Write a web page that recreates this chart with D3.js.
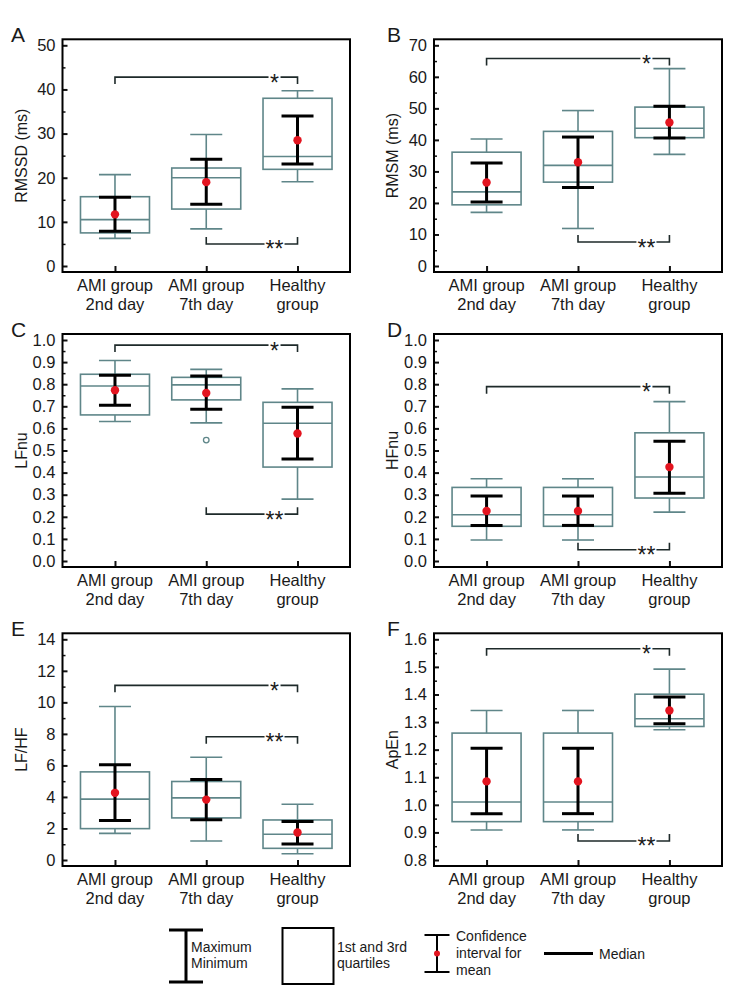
<!DOCTYPE html>
<html><head><meta charset="utf-8">
<script src="https://cdn.jsdelivr.net/npm/d3@7"></script>
<style>
body{margin:0;background:#fff}
svg{display:block}
text{font-family:"Liberation Sans",Arial,Helvetica,sans-serif;fill:#1a1a1a}
</style>
</head><body><svg id="c" width="746" height="999"></svg>
<script>
// ---------- data ----------
const categories = [["AMI group","2nd day"],["AMI group","7th day"],["Healthy","group"]];
const panelLetters = ["A","B","C","D","E","F"];
const yLabels = ["RMSSD (ms)","RMSM (ms)","LFnu","HFnu","LF/HF","ApEn"];
const yTickMin = [0,0,0,0,0,0.8];
const yTickMax = [50,70,1.0,1.0,14,1.6];
const yTickStep = [10,10,0.1,0.1,2,0.1];
const yTickDecimals = [0,0,1,1,0,1];

// box stats per group: [minimum, q1, median, q3, maximum]
const rmssdBox = [[6.25,7.5,10.5,15.7,20.7],[8.4,12.9,20.0,22.2,29.8],[19.1,21.9,24.8,38.0,39.7]];
const rmsmBox  = [[17.0,19.4,23.5,36.1,40.3],[11.9,26.6,31.9,42.7,49.3],[35.4,40.7,43.7,50.4,62.6]];
const lfnuBox  = [[0.631,0.661,0.792,0.845,0.907],[0.625,0.729,0.797,0.831,0.867],[0.280,0.425,0.623,0.718,0.779]];
const hfnuBox  = [[0.095,0.157,0.209,0.333,0.372],[0.095,0.157,0.209,0.333,0.372],[0.221,0.285,0.380,0.580,0.721]];
const lfhfBox  = [[1.69,1.99,3.86,5.59,9.74],[1.21,2.67,3.94,4.98,6.52],[0.40,0.74,1.63,2.54,3.54]];
const apenBox  = [[0.909,0.939,1.010,1.260,1.342],[0.909,0.939,1.010,1.260,1.342],[1.272,1.284,1.312,1.401,1.492]];

// confidence interval for mean per group: [lower, mean, upper]
const rmssdCI = [[7.9,11.7,15.6],[14.0,19.0,24.2],[23.1,28.5,34.0]];
const rmsmCI  = [[20.3,26.5,32.7],[24.9,32.9,40.9],[40.6,45.5,50.7]];
const lfnuCI  = [[0.705,0.773,0.840],[0.687,0.760,0.837],[0.462,0.577,0.696]];
const hfnuCI  = [[0.161,0.226,0.294],[0.161,0.226,0.294],[0.307,0.425,0.542]];
const lfhfCI  = [[2.50,4.26,6.04],[2.56,3.83,5.10],[1.02,1.74,2.44]];
const apenCI  = [[0.968,1.085,1.205],[0.968,1.085,1.205],[1.294,1.342,1.391]];

// outliers per group
const rmssdOut = [[],[],[]];
const rmsmOut  = [[],[],[]];
const lfnuOut  = [[],[0.547],[]];
const hfnuOut  = [[],[],[]];
const lfhfOut  = [[],[],[]];
const apenOut  = [[],[],[]];

// significance brackets: [fromGroup, toGroup, level, tick direction, label]
const rmssdSig = [[0,2,42.8,"down","*"],[1,2,5.0,"up","**"]];
const rmsmSig  = [[0,2,65.8,"down","*"],[1,2,7.6,"up","**"]];
const lfnuSig  = [[0,2,0.977,"down","*"],[1,2,0.212,"up","**"]];
const hfnuSig  = [[0,2,0.789,"down","*"],[1,2,0.051,"up","**"]];
const lfhfSig  = [[0,2,11.08,"down","*"],[1,2,7.82,"down","**"]];
const apenSig  = [[0,2,1.566,"down","*"],[1,2,0.869,"up","**"]];

const boxes = [rmssdBox,rmsmBox,lfnuBox,hfnuBox,lfhfBox,apenBox];
const cis = [rmssdCI,rmsmCI,lfnuCI,hfnuCI,lfhfCI,apenCI];
const outs = [rmssdOut,rmsmOut,lfnuOut,hfnuOut,lfhfOut,apenOut];
const sigs = [rmssdSig,rmsmSig,lfnuSig,hfnuSig,lfhfSig,apenSig];

// ---------- layout ----------
const colX = [[62.5,350],[434,722]];
const rowY = [[39.3,272],[334,567],[633.3,866]];
const boxColor = "#5f8689";
const svg = d3.select("#c");

for (let p = 0; p < 6; p++) {
  const col = p % 2, row = Math.floor(p / 2);
  const [x0,x1] = colX[col], [y0,y1] = rowY[row];
  const g = svg.append("g");
  const x = d3.scalePoint().domain([0,1,2]).range([x0,x1]).padding(0.575);
  const y = d3.scaleLinear().domain([yTickMin[p], yTickMax[p]]).range([y1-6, y0+6]);
  const nT = Math.round((yTickMax[p]-yTickMin[p])/yTickStep[p]);
  const major = d3.range(nT+1).map(i => yTickMin[p] + i*yTickStep[p]);
  const minor = d3.range(nT).map(i => yTickMin[p] + (i+0.5)*yTickStep[p]);

  // minor ticks
  g.append("g").attr("transform",`translate(${x0},0)`)
    .call(d3.axisLeft(y).tickValues(minor).tickSizeInner(-3).tickSizeOuter(0).tickFormat(""))
    .call(s => s.select(".domain").remove())
    .call(s => s.selectAll("line").attr("stroke","#111").attr("stroke-width",1.5));
  // major ticks
  g.append("g").attr("transform",`translate(${x0},0)`)
    .call(d3.axisLeft(y).tickValues(major).tickSizeInner(-5).tickSizeOuter(0).tickPadding(7)
      .tickFormat(d3.format(`.${yTickDecimals[p]}f`)))
    .call(s => s.select(".domain").remove())
    .call(s => s.selectAll("line").attr("stroke","#111").attr("stroke-width",2))
    .call(s => s.selectAll("text").attr("font-size",16.5).attr("fill","#1a1a1a")
      .attr("font-family","Liberation Sans, Arial, sans-serif"));
  // x ticks
  g.append("g").attr("transform",`translate(0,${y1})`)
    .call(d3.axisBottom(x).tickSizeInner(-6).tickSizeOuter(0).tickFormat(""))
    .call(s => s.select(".domain").remove())
    .call(s => s.selectAll("line").attr("stroke","#111").attr("stroke-width",2));
  // category labels
  categories.forEach((c,i) => {
    const t = g.append("text").attr("x",x(i)).attr("text-anchor","middle").attr("font-size",16.5);
    t.append("tspan").attr("x",x(i)).attr("y",y1+19).text(c[0]);
    t.append("tspan").attr("x",x(i)).attr("y",y1+38).text(c[1]);
  });
  // y label
  g.append("text").attr("transform",`translate(${x0-36},${(y0+y1)/2}) rotate(-90)`)
    .attr("text-anchor","middle").attr("font-size",16).text(yLabels[p]);
  // panel letter
  g.append("text").attr("x", col===0 ? 11 : 387).attr("y", y0+2.5)
    .attr("font-size",21).text(panelLetters[p]);

  // boxes
  const bw = 69, cw = 32;
  boxes[p].forEach((b,i) => {
    const cx = x(i);
    const [mn,q1,md,q3,mx] = b;
    const gg = g.append("g").attr("stroke",boxColor).attr("stroke-width",1.6).attr("fill","none");
    gg.append("line").attr("x1",cx).attr("x2",cx).attr("y1",y(q3)).attr("y2",y(mx));
    gg.append("line").attr("x1",cx).attr("x2",cx).attr("y1",y(q1)).attr("y2",y(mn));
    gg.append("line").attr("x1",cx-cw/2).attr("x2",cx+cw/2).attr("y1",y(mx)).attr("y2",y(mx));
    gg.append("line").attr("x1",cx-cw/2).attr("x2",cx+cw/2).attr("y1",y(mn)).attr("y2",y(mn));
    gg.append("rect").attr("x",cx-bw/2).attr("width",bw).attr("y",y(q3)).attr("height",y(q1)-y(q3));
    gg.append("line").attr("x1",cx-bw/2).attr("x2",cx+bw/2).attr("y1",y(md)).attr("y2",y(md));
    outs[p][i].forEach(o => {
      gg.append("circle").attr("cx",cx).attr("cy",y(o)).attr("r",2.8).attr("stroke-width",1.3);
    });
  });
  // CI
  cis[p].forEach((c,i) => {
    const cx = x(i);
    const [lo,m,hi] = c;
    const gg = g.append("g").attr("stroke","#000").attr("stroke-width",3);
    gg.append("line").attr("x1",cx).attr("x2",cx).attr("y1",y(lo)).attr("y2",y(hi));
    gg.append("line").attr("x1",cx-cw/2).attr("x2",cx+cw/2).attr("y1",y(lo)).attr("y2",y(lo));
    gg.append("line").attr("x1",cx-cw/2).attr("x2",cx+cw/2).attr("y1",y(hi)).attr("y2",y(hi));
    g.append("circle").attr("cx",cx).attr("cy",y(m)).attr("r",4.2).attr("fill","#e3141f");
  });
  // significance brackets
  sigs[p].forEach(s => {
    const [a,b,lvl,dir,lab] = s;
    const xa = x(a), xb = x(b), yy = y(lvl);
    const d = dir === "down" ? 7 : -7;
    const starX = xb - 23;
    const gap = lab.length === 1 ? 6 : 10;
    const gs = g.append("g").attr("stroke","#1e2a2a").attr("stroke-width",1.6).attr("fill","none");
    gs.append("path").attr("d",`M${xa},${yy+d}V${yy}H${starX-gap}`);
    gs.append("path").attr("d",`M${starX+gap},${yy}H${xb}V${yy+d}`);
    g.append("text").attr("x",starX).attr("y",yy+13.5).attr("text-anchor","middle")
      .attr("font-size",23).text(lab);
  });
  // frame
  g.append("rect").attr("x",x0).attr("y",y0).attr("width",x1-x0).attr("height",y1-y0)
    .attr("fill","none").attr("stroke","#000").attr("stroke-width",2);
}

// ---------- legend ----------
const lg = svg.append("g");
const lfs = 14;
// max/min
lg.append("path").attr("d","M169,930H203M186,930V982M169,982H203").attr("stroke","#000").attr("stroke-width",3).attr("fill","none");
lg.append("text").attr("x",191).attr("y",952).attr("font-size",lfs).text("Maximum");
lg.append("text").attr("x",191).attr("y",968).attr("font-size",lfs).text("Minimum");
// quartile box
lg.append("rect").attr("x",282.5).attr("y",928).attr("width",51).attr("height",56).attr("fill","none").attr("stroke","#000").attr("stroke-width",2);
lg.append("text").attr("x",337).attr("y",952).attr("font-size",lfs).text("1st and 3rd");
lg.append("text").attr("x",337).attr("y",968).attr("font-size",lfs).text("quartiles");
// CI
lg.append("path").attr("d","M424.5,935H449.5M437,935V972M424.5,972H449.5").attr("stroke","#000").attr("stroke-width",2).attr("fill","none");
lg.append("circle").attr("cx",437).attr("cy",953.5).attr("r",3).attr("fill","#e3141f");
lg.append("text").attr("x",456).attr("y",941).attr("font-size",lfs).text("Confidence");
lg.append("text").attr("x",456).attr("y",958).attr("font-size",lfs).text("interval for");
lg.append("text").attr("x",456).attr("y",975).attr("font-size",lfs).text("mean");
// median
lg.append("line").attr("x1",544).attr("x2",593).attr("y1",953.5).attr("y2",953.5).attr("stroke","#000").attr("stroke-width",3);
lg.append("text").attr("x",599).attr("y",958.5).attr("font-size",lfs).text("Median");
</script>
</body></html>
